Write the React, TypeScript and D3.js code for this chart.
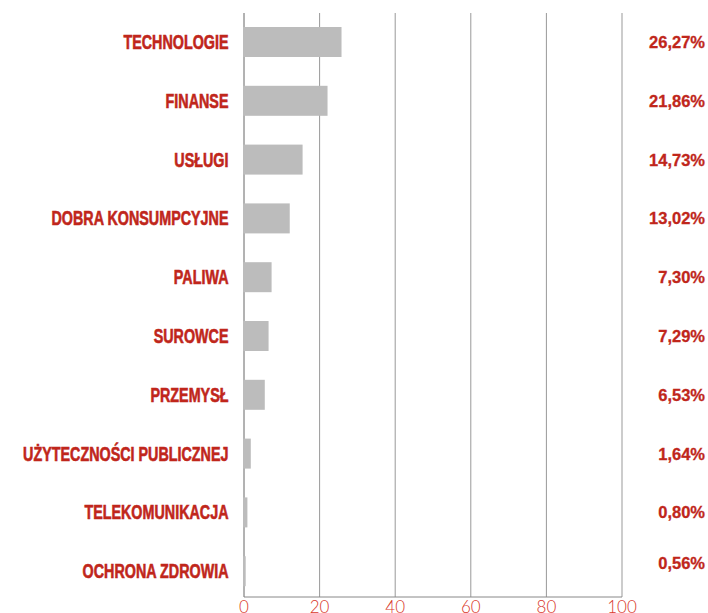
import React from "react";
import * as d3 from "d3";

const categories = [
  "TECHNOLOGIE",
  "FINANSE",
  "USŁUGI",
  "DOBRA KONSUMPCYJNE",
  "PALIWA",
  "SUROWCE",
  "PRZEMYSŁ",
  "UŻYTECZNOŚCI PUBLICZNEJ",
  "TELEKOMUNIKACJA",
  "OCHRONA ZDROWIA",
];
const barValues = [25.8, 22.1, 15.5, 12.1, 7.3, 6.5, 5.5, 1.8, 0.9, 0.45];
const valueLabels = ["26,27%", "21,86%", "14,73%", "13,02%", "7,30%", "7,29%", "6,53%", "1,64%", "0,80%", "0,56%"];
const ticks = [0, 20, 40, 60, 80, 100];

const W = 708;
const H = 613;
const RED = "#c0261b";
const TICK_RED = "#d9392b";

export default function App() {
  const x = d3.scaleLinear().domain([0, 100]).range([244, 622]);
  const y = d3
    .scaleBand<string>()
    .domain(categories)
    .range([12.6, 600.6])
    .paddingInner(0.49)
    .paddingOuter(0.245);
  const gridTop = 13;
  const axisY = 597;

  return (
    <svg
      width={W}
      height={H}
      style={{ position: "absolute", left: 0, top: 0, background: "#fff" }}
    >
      {ticks.map((t) => (
        <line
          key={"g" + t}
          x1={x(t)}
          x2={x(t)}
          y1={gridTop}
          y2={axisY}
          stroke={t === 0 ? "#666" : "#999"}
          strokeWidth={1}
        />
      ))}
      <line x1={x(0)} x2={x(100)} y1={axisY} y2={axisY} stroke="#888" strokeWidth={1} />
      {categories.map((c, i) => (
        <rect
          key={c}
          x={x(0) - 1}
          y={y(c)}
          width={x(barValues[i]) - x(0) + 1}
          height={y.bandwidth()}
          fill="#bcbcbc"
        />
      ))}
      {categories.map((c) => (
        <g
          key={"l" + c}
          transform={`translate(228.5,${(y(c) as number) + y.bandwidth() / 2}) scale(0.735,1)`}
        >
          <text
            x={0}
            y={0}
            dy="0.36em"
            textAnchor="end"
            fill={RED}
            stroke={RED}
            strokeWidth={0.6}
            fontFamily="'Liberation Sans', Arial, sans-serif"
            fontWeight="bold"
            fontSize={19.5}
          >
            {c}
          </text>
        </g>
      ))}
      {categories.map((c, i) => (
        <text
          key={"v" + c}
          x={705}
          y={(y(c) as number) + y.bandwidth() / 2 + (i === categories.length - 1 ? -8 : 0)}
          dy="0.36em"
          textAnchor="end"
          fill={RED}
          stroke={RED}
          strokeWidth={0.3}
          fontFamily="'Liberation Sans', Arial, sans-serif"
          fontWeight="bold"
          fontSize={16.5}
        >
          {valueLabels[i]}
        </text>
      ))}
      {ticks.map((t) => (
        <text
          key={"t" + t}
          x={x(t)}
          y={613}
          textAnchor="middle"
          fill={TICK_RED}
          fontFamily="Lato, 'Open Sans', sans-serif"
          fontWeight={300}
          fontSize={17}
        >
          {t}
        </text>
      ))}
    </svg>
  );
}
